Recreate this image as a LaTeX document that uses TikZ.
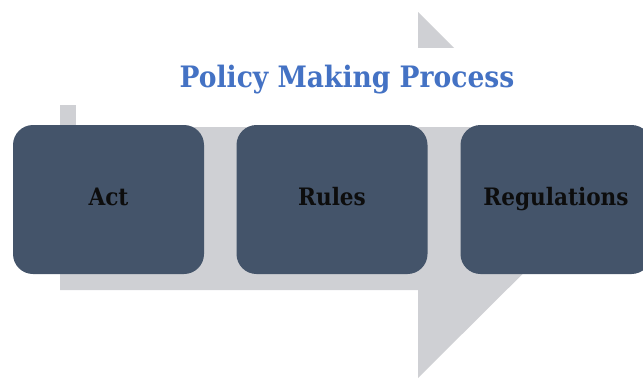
\documentclass[tikz,border=0pt]{standalone}
\usepackage{fontspec}
\setmainfont{DejaVu Serif Condensed}
\definecolor{slatebox}{HTML}{44546A}
\definecolor{arrowgray}{HTML}{CFD0D4}
\definecolor{titleblue}{HTML}{4472C4}
\tikzset{
  stagebox/.style={fill=slatebox, rounded corners=20pt, minimum width=191pt,
    minimum height=149pt, inner sep=0pt, text height=17pt, text depth=5pt,
    font=\fontsize{24}{28}\selectfont\bfseries, text=black!95},
  titletext/.style={font=\fontsize{29.5}{33}\selectfont\bfseries, text=titleblue,
    inner sep=0pt, anchor=base}
}
\begin{document}
\begin{tikzpicture}[x=1pt,y=-1pt]
    \useasboundingbox (0,0) rectangle (643,378);
    % big arrow behind
    \fill[arrowgray] (60,105) -- (418,105) -- (418,12) -- (602,195)
      -- (418,378) -- (418,290) -- (60,290) -- cycle;
    \fill[white] (76,48) rectangle (620,127);
    \node[titletext] at (347,87) (title) {Policy Making Process};
    \node[stagebox] at (108.5,199.5) (act) {Act};
    \node[stagebox] at (332,199.5) (rules) {Rules};
    \node[stagebox] at (556,199.5) (regs) {Regulations};
  \end{tikzpicture}
\end{document}
